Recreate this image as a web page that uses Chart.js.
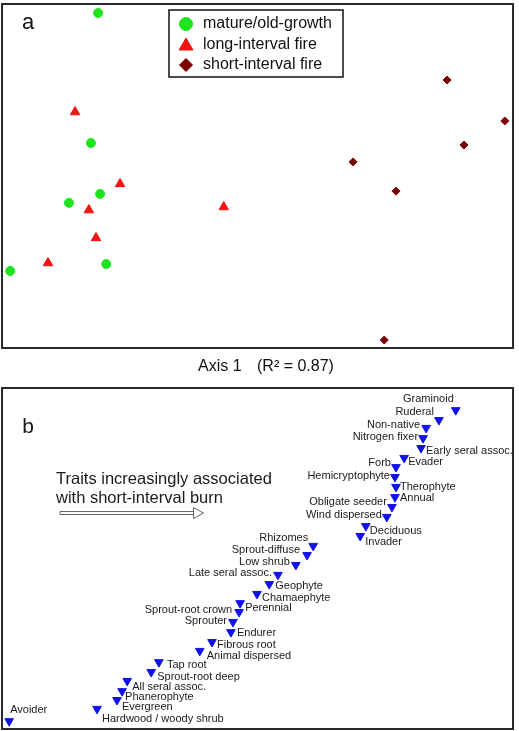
<!DOCTYPE html>
<html>
<head>
<meta charset="utf-8">
<script src="https://cdn.jsdelivr.net/npm/chart.js@4.4.1/dist/chart.umd.min.js"></script>
<style>
  body { margin: 0; background: #fff; }
  canvas { position: absolute; left: 0; }
</style>
</head>
<body>
<canvas id="panelA" width="519" height="385" style="top:0"></canvas>
<canvas id="panelB" width="519" height="346" style="top:385px"></canvas>
<script>
// ---- panel a: plot scores (axis 1 / axis 2, rescaled 0-100) ----
const groupNames = ['mature/old-growth', 'long-interval fire', 'short-interval fire'];
const matureX = [18.8, 17.4, 19.2, 13.1, 20.4, 1.6];
const matureY = [97.4, 59.6, 44.8, 42.2, 24.4, 22.4];
const longX = [14.3, 23.1, 17.0, 43.4, 18.4, 9.0];
const longY = [68.6, 47.7, 40.1, 41.0, 32.0, 24.7];
const shortX = [87.1, 98.4, 90.4, 68.7, 77.1, 74.8];
const shortY = [77.9, 66.0, 59.0, 54.1, 45.6, 2.3];

// ---- panel b: trait scores ----
const traitNames = [
  'Graminoid', 'Ruderal', 'Non-native', 'Nitrogen fixer', 'Early seral assoc.',
  'Evader', 'Forb', 'Hemicryptophyte', 'Therophyte', 'Annual',
  'Obligate seeder', 'Wind dispersed', 'Deciduous', 'Invader', 'Rhizomes',
  'Sprout-diffuse', 'Low shrub', 'Late seral assoc.', 'Geophyte', 'Chamaephyte',
  'Perennial', 'Sprout-root crown', 'Sprouter', 'Endurer', 'Fibrous root',
  'Animal dispersed', 'Tap root', 'Sprout-root deep', 'All seral assoc.', 'Phanerophyte',
  'Evergreen', 'Hardwood / woody shrub', 'Avoider'
];
const traitX = [
  88.8, 85.5, 83.0, 82.4, 82.0, 78.7, 77.1, 76.9, 77.1, 76.9,
  76.3, 75.3, 71.2, 70.1, 60.9, 59.7, 57.5, 54.0, 52.3, 49.9,
  46.6, 46.4, 45.2, 44.8, 41.1, 38.7, 30.7, 29.2, 24.5, 23.5,
  22.5, 18.6, 1.4
];
const traitY = [
  93.5, 90.6, 88.3, 85.3, 82.4, 79.5, 76.8, 73.9, 71.0, 68.0,
  65.1, 62.2, 59.5, 56.6, 53.7, 51.0, 48.1, 45.2, 42.5, 39.6,
  36.9, 34.3, 31.4, 28.4, 25.5, 22.9, 19.6, 16.7, 14.1, 11.1,
  8.5, 5.9, 2.3
];

// label placement next to each trait marker: [side, dx, dy]
const labelPlace = [
  ['L', -2, -11], ['L', -5, -8], ['L', -6, -3], ['L', -5, -1], ['R', 5, 3],
  ['R', 4, 4], ['L', -5, -4], ['L', -5, -1], ['R', 4, 0], ['R', 5, 1],
  ['L', -5, -5], ['L', -5, -2], ['R', 4, 5], ['R', 5, 6], ['L', -5, -8],
  ['L', -7, -5], ['L', -6, -3], ['L', -6, -2], ['R', 6, 2], ['R', 5, 4],
  ['R', 5, 5], ['L', -7, -2], ['L', -6, -1], ['R', 6, 1], ['R', 5, 3],
  ['R', 7, 5], ['R', 8, 3], ['R', 6, 5], ['R', 5, 6], ['R', 3, 6],
  ['R', 5, 7], ['R', 5, 10], ['R', 1, -11]
];

const FONT = "'Liberation Sans', Arial, sans-serif";
const GREEN = '#1ee41e';
const RED = '#f01414';
const DARKRED = '#7a0000';
const BLUE = '#1212e8';

function pts(xs, ys) {
  return xs.map((x, i) => ({ x: x, y: ys[i] }));
}

function marker(ctx, style, r, rot, x, y, color) {
  ctx.save();
  ctx.fillStyle = color;
  ctx.strokeStyle = color;
  ctx.lineWidth = 1;
  if (Chart.helpers && Chart.helpers.drawPoint) {
    Chart.helpers.drawPoint(ctx, { pointStyle: style, radius: r, rotation: rot, borderWidth: 1 }, x, y);
  }
  ctx.restore();
}

const boxPlugin = {
  id: 'panelBox',
  afterDraw(chart) {
    const a = chart.chartArea;
    const ctx = chart.ctx;
    ctx.save();
    ctx.strokeStyle = '#2a2a2a';
    ctx.lineWidth = 2;
    ctx.strokeRect(a.left, a.top, a.right - a.left, a.bottom - a.top);
    ctx.restore();
  }
};

const scaleOpts = {
  x: { type: 'linear', min: 0, max: 100, display: false },
  y: { type: 'linear', min: 0, max: 100, display: false }
};

// ---- panel a ----
const groupStyles = [
  { style: 'circle', r: 4.5, color: GREEN },
  { style: 'triangle', r: 5.5, color: RED },
  { style: 'rectRot', r: 4, color: DARKRED }
];
const groupData = [pts(matureX, matureY), pts(longX, longY), pts(shortX, shortY)];

const panelAText = {
  id: 'panelAText',
  afterDraw(chart) {
    const ctx = chart.ctx;
    ctx.save();
    ctx.fillStyle = '#111';
    ctx.textBaseline = 'middle';
    ctx.font = '22px ' + FONT;
    ctx.textAlign = 'center';
    ctx.fillText('a', 28, 23);

    // legend
    ctx.strokeStyle = '#111';
    ctx.lineWidth = 1.5;
    ctx.fillStyle = '#fff';
    ctx.fillRect(169, 10, 174, 67);
    ctx.strokeRect(169, 10, 174, 67);
    const legendR = [6.5, 8, 6.5];
    const rowY = [24, 45, 65];
    groupNames.forEach((name, i) => {
      const ds = chart.data.datasets[i];
      marker(ctx, ds.pointStyle, legendR[i], 0, 186, rowY[i] + (i === 1 ? 1 : 0), ds.backgroundColor);
      ctx.fillStyle = '#111';
      ctx.textAlign = 'left';
      ctx.font = '16px ' + FONT;
      ctx.fillText(name, 203, rowY[i]);
    });

    // axis label
    ctx.font = '16px ' + FONT;
    ctx.textAlign = 'left';
    ctx.fillStyle = '#111';
    ctx.fillText('Axis 1', 198, 367);
    ctx.fillText('(R\u00B2 = 0.87)', 257, 367);
    ctx.restore();
  }
};

new Chart(document.getElementById('panelA'), {
  type: 'scatter',
  data: {
    datasets: groupNames.map((name, i) => ({
      label: name,
      data: groupData[i],
      pointStyle: groupStyles[i].style,
      pointRadius: groupStyles[i].r,
      backgroundColor: groupStyles[i].color,
      borderColor: groupStyles[i].color,
      borderWidth: 1,
      clip: false
    }))
  },
  options: {
    responsive: false,
    animation: false,
    layout: { autoPadding: false, padding: { left: 2, right: 6, top: 4, bottom: 37 } },
    scales: scaleOpts,
    plugins: { legend: { display: false }, tooltip: { enabled: false } }
  },
  plugins: [boxPlugin, panelAText]
});

// ---- panel b ----
const panelBText = {
  id: 'panelBText',
  afterDatasetsDraw(chart) {
    const ctx = chart.ctx;
    const meta = chart.getDatasetMeta(0);
    ctx.save();
    ctx.fillStyle = '#1a1a1a';
    ctx.textBaseline = 'middle';
    ctx.font = '11px ' + FONT;
    meta.data.forEach((el, i) => {
      const p = labelPlace[i];
      ctx.textAlign = p[0] === 'L' ? 'right' : 'left';
      ctx.fillText(traitNames[i], el.x + p[1], el.y + p[2]);
    });

    ctx.font = '21px ' + FONT;
    ctx.textAlign = 'center';
    ctx.fillText('b', 28, 42);

    ctx.font = '16.5px ' + FONT;
    ctx.textAlign = 'left';
    ctx.fillText('Traits increasingly associated', 56, 94);
    ctx.fillText('with short-interval burn', 56, 113);

    // open double-shaft arrow
    ctx.strokeStyle = '#666';
    ctx.lineWidth = 1;
    ctx.beginPath();
    ctx.moveTo(60, 126.5); ctx.lineTo(194, 126.5);
    ctx.moveTo(60, 129.5); ctx.lineTo(194, 129.5);
    ctx.moveTo(60, 126.5); ctx.lineTo(60, 129.5);
    ctx.stroke();
    ctx.beginPath();
    ctx.moveTo(193.5, 122.5);
    ctx.lineTo(203.5, 128);
    ctx.lineTo(193.5, 133.5);
    ctx.closePath();
    ctx.fillStyle = '#fff';
    ctx.fill();
    ctx.stroke();
    ctx.restore();
  }
};

new Chart(document.getElementById('panelB'), {
  type: 'scatter',
  data: {
    datasets: [{
      label: 'traits',
      data: pts(traitX, traitY),
      pointStyle: 'triangle',
      rotation: 180,
      pointRadius: 5,
      backgroundColor: BLUE,
      borderColor: BLUE,
      borderWidth: 1,
      clip: false
    }]
  },
  options: {
    responsive: false,
    animation: false,
    layout: { autoPadding: false, padding: { left: 2, right: 6, top: 3, bottom: 2 } },
    scales: scaleOpts,
    plugins: { legend: { display: false }, tooltip: { enabled: false } }
  },
  plugins: [boxPlugin, panelBText]
});
</script>
</body>
</html>
